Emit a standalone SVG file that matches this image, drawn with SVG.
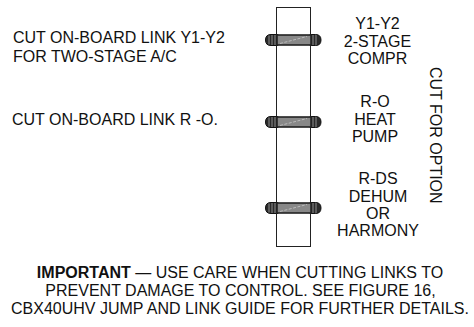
<svg xmlns="http://www.w3.org/2000/svg" width="474" height="327" viewBox="0 0 474 327">
<style>
text{font-family:"Liberation Sans",Arial,sans-serif;font-size:16px;fill:#111}
.m{text-anchor:middle}
.b{fill:#888;stroke:#222;stroke-width:1.6}
.c{fill:#2a2a2a;stroke:#111;stroke-width:1}
.r{stroke:#999;stroke-width:.9;fill:none}
.h{stroke:#bbb;stroke-width:1;stroke-dasharray:3 1.5;fill:none}
</style>
<defs>
<g id="link">
<path class="c" d="M28 -5.500H21Q15.500 -5.500 15.500 0Q15.500 5.500 21 5.500H28Z"/>
<path class="c" d="M60 -5.500H65.500Q71 -5.500 71 0Q71 5.500 65.500 5.500H60Z"/>
<path class="r" d="M19 -4.500V4.500M22 -5V5M25 -5V5M63 -5V5M66 -5V5"/>
<rect class="b" x="27" y="-5" width="34" height="10"/>
<path class="h" d="M30 3.500L57 -3.500"/>
</g>
</defs>
<g id="connectors"></g>
<g id="board"><rect x="276.500" y="7.500" width="34" height="239" fill="#fff" stroke="#222" stroke-width="1"/></g>
<g id="link-y1y2"><use href="#link" x="250" y="40"/></g>
<g id="link-ro"><use href="#link" x="250" y="122"/></g>
<g id="link-rds"><use href="#link" x="250" y="208"/></g>
<g id="label-left">
<text x="13" y="43">CUT ON-BOARD LINK Y1-Y2</text>
<text x="13" y="62">FOR TWO-STAGE A/C</text>
<text x="12" y="125">CUT ON-BOARD LINK R -O.</text>
</g>
<g id="label-y1y2">
<text class="m" x="377.500" y="29">Y1-Y2</text>
<text class="m" x="377.500" y="47">2-STAGE</text>
<text class="m" x="377.500" y="64">COMPR</text>
</g>
<g id="label-ro">
<text class="m" x="375" y="107">R-O</text>
<text class="m" x="375" y="125">HEAT</text>
<text class="m" x="375" y="142">PUMP</text>
</g>
<g id="label-rds">
<text class="m" x="378" y="184">R-DS</text>
<text class="m" x="378" y="202">DEHUM</text>
<text class="m" x="378" y="219">OR</text>
<text class="m" x="378" y="236">HARMONY</text>
</g>
<g id="label-cut"><text transform="translate(430 67) rotate(90)">CUT FOR OPTION</text></g>
<g id="note">
<text class="m" x="240" y="278"><tspan font-weight="bold">IMPORTANT</tspan> — USE CARE WHEN CUTTING LINKS TO</text>
<text class="m" x="240.500" y="296">PREVENT DAMAGE TO CONTROL. SEE FIGURE 16,</text>
<text class="m" x="240" y="314">CBX40UHV JUMP AND LINK GUIDE FOR FURTHER DETAILS.</text>
</g>
</svg>
